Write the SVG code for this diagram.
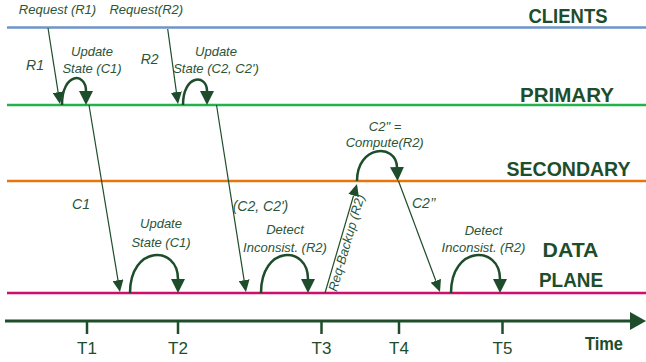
<svg xmlns="http://www.w3.org/2000/svg" width="646" height="362" viewBox="0 0 646 362">
<style>
text{font-family:"Liberation Sans",Arial,sans-serif;}
.lane{font-weight:bold;font-size:21px;fill:#1E4D2B;text-anchor:middle;}
.lbl{font-style:italic;font-size:13px;fill:#2A5538;text-anchor:middle;}
.big{font-style:italic;font-size:14px;fill:#2A5538;text-anchor:middle;}
.tick{font-size:17px;fill:#1E4D2B;text-anchor:middle;}
.thin{fill:none;stroke:#1E4D2B;stroke-width:1.2;marker-end:url(#ahs);}
.arc{fill:none;stroke:#1E4D2B;stroke-width:2.5;marker-end:url(#ahb);}
.tk{stroke:#1E4D2B;stroke-width:2.5;}
</style>
<defs>
<marker id="ahs" viewBox="0 0 12 11" refX="0" refY="5.5" markerWidth="12" markerHeight="11" markerUnits="userSpaceOnUse" orient="auto"><path d="M0,0 L12,5.5 L0,11 z" fill="#1E4D2B"/></marker>
<marker id="ahb" viewBox="0 0 14 14" refX="0" refY="7" markerWidth="14" markerHeight="14" markerUnits="userSpaceOnUse" orient="auto"><path d="M0,0 L14,7 L0,14 z" fill="#1E4D2B"/></marker>
</defs>
<g id="lanes">
<g id="clients"><line x1="7" y1="27.5" x2="646" y2="27.5" stroke="#7094C8" stroke-width="2.5"/><text class="lane" x="568" y="23" textLength="79" lengthAdjust="spacingAndGlyphs">CLIENTS</text></g>
<g id="primary"><line x1="7" y1="105" x2="646" y2="105" stroke="#22B24C" stroke-width="2.5"/><text class="lane" x="567" y="102" textLength="94" lengthAdjust="spacingAndGlyphs">PRIMARY</text></g>
<g id="secondary"><line x1="7" y1="181" x2="646" y2="181" stroke="#E8740C" stroke-width="2.5"/><text class="lane" x="568.5" y="176" textLength="124" lengthAdjust="spacingAndGlyphs">SECONDARY</text></g>
<g id="dataplane"><line x1="7" y1="293" x2="646" y2="293" stroke="#CF0D6B" stroke-width="2.5"/><text class="lane" x="570.5" y="257" textLength="56" lengthAdjust="spacingAndGlyphs">DATA</text><text class="lane" x="571" y="287" textLength="64" lengthAdjust="spacingAndGlyphs">PLANE</text></g>
</g>
<g id="timeaxis">
<line x1="5" y1="321" x2="632" y2="321" stroke="#1E4D2B" stroke-width="3"/>
<polygon points="630,312 646,321 630,330" fill="#1E4D2B"/>
<line class="tk" x1="87" y1="321" x2="87" y2="334"/>
<line class="tk" x1="178" y1="321" x2="178" y2="334"/>
<line class="tk" x1="321.5" y1="321" x2="321.5" y2="334"/>
<line class="tk" x1="399" y1="321" x2="399" y2="334"/>
<line class="tk" x1="502.5" y1="321" x2="502.5" y2="334"/>
<text class="tick" x="87" y="354">T1</text>
<text class="tick" x="178" y="354">T2</text>
<text class="tick" x="321.5" y="354">T3</text>
<text class="tick" x="399" y="354">T4</text>
<text class="tick" x="502.5" y="354">T5</text>
<text x="604" y="350" font-weight="bold" font-size="18" fill="#1E4D2B" text-anchor="middle" textLength="38" lengthAdjust="spacingAndGlyphs">Time</text>
</g>
<g id="connectors">
<path class="thin" d="M48,28 L58.1,92.1"/>
<path class="thin" d="M167.7,29 L176.4,92.1"/>
<path class="thin" d="M89,105 L118,280.2"/>
<path class="thin" d="M216.5,105 L244.1,280.1"/>
<path class="thin" d="M325,293 L353.6,195.5"/>
<path class="thin" d="M398.5,181 L435.8,280.8"/>
<path class="arc" d="M62,105 C62,72 86,72 86,91"/>
<path class="arc" d="M183,105 C183,74 207,74 207,91"/>
<path class="arc" d="M130,293 C130,245 178,245 178,279"/>
<path class="arc" d="M261,293 C261,245 308,245 308,279"/>
<path class="arc" d="M357,181 C357,145 396,143 397,167"/>
<path class="arc" d="M451,293 C451,245 500,245 500,279"/>
</g>
<g id="labels">
<text class="lbl" x="57.5" y="14" font-size="12.5">Request (R1)</text>
<text class="lbl" x="146.3" y="14" font-size="12.5">Request(R2)</text>
<text class="big" x="35" y="70">R1</text>
<text class="big" x="149.7" y="64">R2</text>
<text class="lbl" x="92" y="56">Update</text>
<text class="lbl" x="92" y="72.7">State (C1)</text>
<text class="lbl" x="216" y="56">Update</text>
<text class="lbl" x="216" y="72.7">State (C2, C2')</text>
<text class="big" x="81" y="209">C1</text>
<text class="big" x="260.5" y="211">(C2, C2')</text>
<text class="lbl" x="161" y="228.3">Update</text>
<text class="lbl" x="161" y="246.7">State (C1)</text>
<text class="lbl" x="285" y="234">Detect</text>
<text class="lbl" x="285" y="251.7">Inconsist. (R2)</text>
<text class="lbl" x="385" y="131">C2" =</text>
<text class="lbl" x="384.7" y="147">Compute(R2)</text>
<text class="big" x="412" y="208" style="text-anchor:start">C2’’</text>
<text class="lbl" x="483.5" y="235">Detect</text>
<text class="lbl" x="483.5" y="251.7">Inconsist. (R2)</text>
<text class="lbl" font-size="12.5" style="text-anchor:start" transform="translate(336.7,292.3) rotate(-73.8)">Req-Backup (R2)</text>
</g>
</svg>
